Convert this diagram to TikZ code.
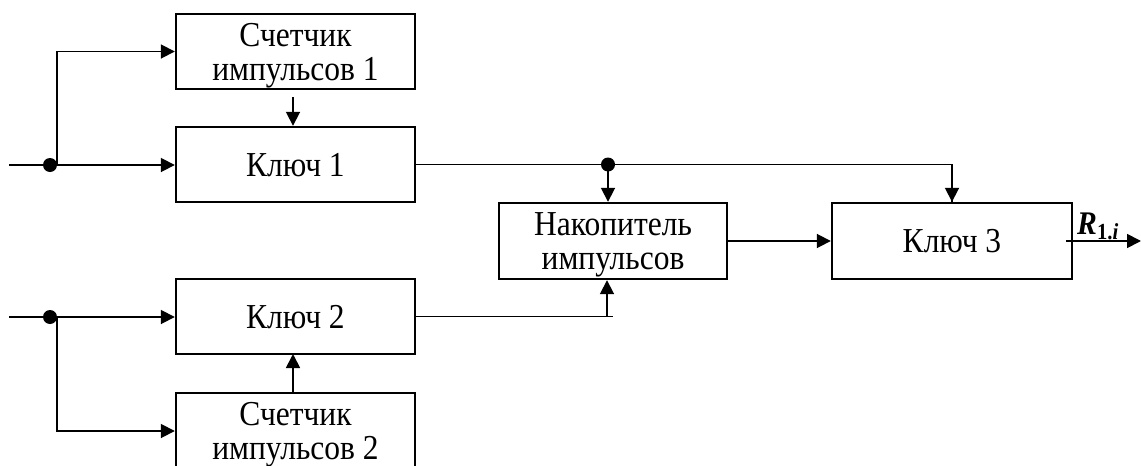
\documentclass[tikz,border=0pt]{standalone}
\usepackage{fontspec}
\setmainfont{Liberation Serif}
\newfontfamily\boxfont[FakeStretch=0.9]{Liberation Serif}
\usetikzlibrary{arrows.meta}
\begin{document}
\begin{tikzpicture}[x=1pt,y=-1pt,
  box/.style={draw,line width=2.4pt,align=center,inner sep=0pt,text depth=0pt,font=\boxfont\fontsize{35}{34}\selectfont},
  conn/.style={line width=1.8pt},
  arr/.style={conn,-{Triangle[length=14pt,width=14pt]}},
  junc/.style={circle,fill,inner sep=0pt,minimum size=14pt}]
\useasboundingbox[fill=white] (0,0) rectangle (1141,466);
\clip (0,0) rectangle (1141,466);
% boxes
\node[box,minimum width=239pt,minimum height=75pt] (c1) at (295.5,51.5) {Счетчик\\импульсов 1};
\node[box,minimum width=239pt,minimum height=75pt] (k1) at (295.5,164.5) {Ключ 1};
\node[box,minimum width=228pt,minimum height=76pt] (nak) at (613,241) {Накопитель\\импульсов};
\node[box,minimum width=240pt,minimum height=76pt] (k3) at (952,241) {Ключ 3};
\node[box,minimum width=239pt,minimum height=75pt] (k2) at (295.5,316.5) {Ключ 2};
\node[box,minimum width=239pt,minimum height=76pt] (c2) at (295.5,431) {Счетчик\\импульсов 2};
% inputs top
\coordinate (in1) at (9,165);
\node[junc] (j1) at (50,165) {};
\coordinate (b1) at (57,165);
\draw[arr] (in1) -- (k1.west |- in1);
\draw[arr] (b1) |- (c1.west);
% inputs bottom
\coordinate (in2) at (9,317);
\node[junc] (j2) at (50,317) {};
\coordinate (b2) at (57,317);
\draw[arr] (in2) -- (k2.west |- in2);
\draw[arr] (b2) |- (c2.west);
% counters to keys
\coordinate (s1) at (293,97);
\draw[arr] (s1) -- (s1 |- k1.north);
\draw[arr] (c2.north -| 293,0) -- (293,354);
% key1 output
\node[junc] (j3) at (608,164.5) {};
\draw[conn] (k1.east) -- (j3.center) -| (k3.north);
\draw[arr] (k3.north |- j3.center) -- (k3.north);
\draw[arr] (j3.center) -- (j3 |- nak.north);
% key2 output
\coordinate (e2) at (613,316.5);
\coordinate (u2) at (607,316.5);
\draw[conn] (k2.east) -- (e2);
\draw[arr] (u2) -- (u2 |- nak.south);
% nak to key3
\draw[arr] (nak.east) -- (k3.west);
% output
\coordinate (o1) at (1066,241);
\coordinate (o2) at (1141,241);
\draw[arr] (o1) -- (o2);
\node[anchor=base west,inner sep=0pt] (lab) at (1077,234) {\boxfont\fontsize{33}{33}\selectfont\bfseries\itshape R\raisebox{-5pt}{\fontsize{23}{23}\selectfont\upshape 1.\itshape i}};
\end{tikzpicture}
\end{document}
